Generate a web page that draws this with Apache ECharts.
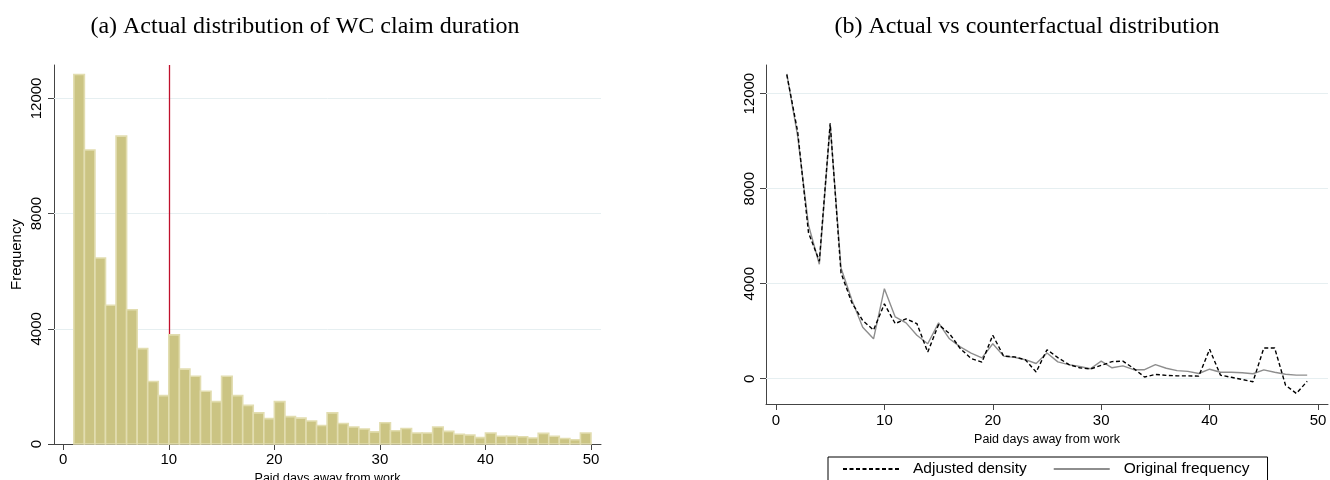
<!DOCTYPE html>
<html>
<head>
<meta charset="utf-8">
<script src="https://cdn.jsdelivr.net/npm/echarts@6/dist/echarts.min.js"></script>
<style>
  html, body { margin: 0; padding: 0; background: #fff; }
  #main { width: 1330px; height: 480px; }
</style>
</head>
<body>
<div id="main"></div>
<script>
// histogram bins of width 1, starting at day 1
var binStart = [1, 2, 3, 4, 5, 6, 7, 8, 9, 10, 11, 12, 13, 14, 15, 16, 17, 18, 19, 20,
	21, 22, 23, 24, 25, 26, 27, 28, 29, 30, 31, 32, 33, 34, 35, 36, 37, 38, 39, 40,
	41, 42, 43, 44, 45, 46, 47, 48, 49];
var binCount = [12830, 10210, 6460, 4820, 10690, 4660, 3310, 2170, 1680, 3790,
	2600, 2350, 1830, 1470, 2350, 1680, 1340, 1080, 880, 1470,
	950, 900, 800, 640, 1080, 710, 590, 520, 420, 740,
	460, 540, 380, 380, 590, 440, 340, 310, 220, 380,
	270, 270, 250, 210, 370, 270, 190, 150, 380];

// panel (b)
var days = binStart;
var adjustedDensity = [12800, 10400, 6150, 4950, 10750, 4450, 3200, 2450, 2050, 3150,
	2320, 2520, 2320, 1120, 2280, 1900, 1270, 850, 700, 1830,
	950, 920, 800, 280, 1220, 890, 600, 460, 410, 560,
	720, 740, 430, 70, 180, 140, 120, 120, 110, 1240,
	150, 60, -30, -130, 1290, 1290, -270, -620, -110];
var originalFreq = [12830, 10210, 6460, 4820, 10690, 4660, 3310, 2170, 1680, 3790,
	2600, 2350, 1830, 1470, 2350, 1680, 1340, 1080, 880, 1470,
	950, 900, 800, 640, 1080, 710, 590, 520, 420, 740,
	460, 540, 380, 380, 590, 440, 340, 310, 220, 400,
	270, 270, 250, 210, 370, 270, 190, 150, 150];

var xTicks = [0, 10, 20, 30, 40, 50];
var yTicks = [0, 4000, 8000, 12000];
var gridTicksA = [4000, 8000, 12000];
var gridTicksB = [0, 4000, 8000, 12000];
var cutoffDay = 10;

var sans = 'Liberation Sans';
var serif = 'Liberation Serif';
var axisColor = '#444';
var gridColor = '#e6eff1';

var histData = [];
for (var i = 0; i < binStart.length; i++) {
	histData.push([binStart[i], binCount[i]]);
}
var pairs = function(xs, ys) {
	var res = [];
	for (var i = 0; i < xs.length; i++) {
		res.push([xs[i], ys[i]]);
	}
	return res;
};
var hLines = function(values) {
	return values.map(function(v) { return { yAxis: v }; });
};
var plain = function(v) { return String(v); };

var xAxisBase = function(gridIndex, min, max, nameGap, labelMargin) {
	return {
		type: 'value',
		gridIndex: gridIndex,
		min: min,
		max: max,
		name: 'Paid days away from work',
		nameLocation: 'middle',
		nameGap: nameGap,
		nameTextStyle: { fontFamily: sans, fontSize: 12.5, color: '#000' },
		axisLine: { onZero: false, lineStyle: { color: axisColor, width: 1 } },
		axisTick: { customValues: xTicks, length: 6, lineStyle: { color: axisColor } },
		axisLabel: { customValues: xTicks, margin: labelMargin, fontFamily: sans, fontSize: 15, color: '#000', formatter: plain },
		splitLine: { show: false }
	};
};
var yAxisBase = function(gridIndex, min, max, labelMargin) {
	return {
		type: 'value',
		gridIndex: gridIndex,
		min: min,
		max: max,
		axisLine: { show: true, onZero: false, lineStyle: { color: axisColor } },
		axisTick: { show: true, customValues: yTicks, length: 6, lineStyle: { color: axisColor } },
		axisLabel: { customValues: yTicks, rotate: 90, margin: labelMargin, fontFamily: sans, fontSize: 15, color: '#000', formatter: plain },
		splitLine: { show: false }
	};
};

var yA = yAxisBase(0, 0, 13160, 10);
yA.name = 'Frequency';
yA.nameLocation = 'middle';
yA.nameGap = 30;
yA.nameTextStyle = { fontFamily: sans, fontSize: 15, color: '#000' };

var chart = echarts.init(document.getElementById('main'));
chart.setOption({
	animation: false,
	backgroundColor: '#fff',
	title: [{
		text: '(a) Actual distribution of WC claim duration',
		left: 305,
		top: 15,
		padding: 0,
		textAlign: 'center',
		textStyle: { fontFamily: serif, fontWeight: 'normal', fontSize: 24, color: '#000' }
	}, {
		text: '(b) Actual vs counterfactual distribution',
		left: 1027,
		top: 15,
		padding: 0,
		textAlign: 'center',
		textStyle: { fontFamily: serif, fontWeight: 'normal', fontSize: 24, color: '#000' }
	}],
	legend: {
		data: ['Adjusted density', 'Original frequency'],
		left: 828,
		top: 457,
		padding: [4, 18, 14, 14],
		itemWidth: 56,
		itemHeight: 14,
		itemGap: 26,
		borderColor: '#000',
		borderWidth: 1,
		borderRadius: 0,
		itemStyle: { opacity: 0 },
		textStyle: { fontFamily: sans, fontSize: 15.5, color: '#000', padding: [0, 0, 0, 9] }
	},
	grid: [
		{ left: 54, right: 729, top: 65, bottom: 36, outerBoundsMode: 'none' },
		{ left: 766, right: 2, top: 65, bottom: 76, outerBoundsMode: 'none' }
	],
	xAxis: [
		xAxisBase(0, -0.88, 50.95, 27, 8),
		xAxisBase(1, -0.92, 50.92, 21, 9)
	],
	yAxis: [yA, yAxisBase(1, -1065, 13208, 9)],
	series: [{
		name: 'Histogram',
		type: 'custom',
		xAxisIndex: 0,
		yAxisIndex: 0,
		z: 2,
		encode: { x: 0, y: 1 },
		data: histData,
		renderItem: function(params, api) {
			var x0 = api.value(0);
			var top = api.coord([x0, api.value(1)]);
			var base = api.coord([x0 + 1, 0]);
			return {
				type: 'rect',
				shape: { x: top[0], y: top[1], width: base[0] - top[0], height: base[1] - top[1] },
				style: { fill: '#cbc483', stroke: '#e2ddb0', lineWidth: 1.6 }
			};
		},
		markLine: {
			z: 1,
			silent: true,
			symbol: 'none',
			label: { show: false },
			lineStyle: { color: gridColor, width: 1, type: 'solid' },
			data: hLines(gridTicksA).concat([{ xAxis: cutoffDay, lineStyle: { color: '#c0102c', width: 1.3 } }])
		}
	}, {
		name: 'Adjusted density',
		type: 'line',
		xAxisIndex: 1,
		yAxisIndex: 1,
		z: 3,
		symbol: 'none',
		data: pairs(days, adjustedDensity),
		lineStyle: { color: '#000', width: 1.4, type: [4, 2.5] },
		itemStyle: { color: '#000' }
	}, {
		name: 'Original frequency',
		type: 'line',
		xAxisIndex: 1,
		yAxisIndex: 1,
		z: 2,
		symbol: 'none',
		data: pairs(days, originalFreq),
		lineStyle: { color: '#8e8e8e', width: 1.4 },
		itemStyle: { color: '#8e8e8e' },
		markLine: {
			z: 1,
			silent: true,
			symbol: 'none',
			label: { show: false },
			lineStyle: { color: gridColor, width: 1, type: 'solid' },
			data: hLines(gridTicksB)
		}
	}]
});
window.onresize = chart.resize;
</script>
</body>
</html>
